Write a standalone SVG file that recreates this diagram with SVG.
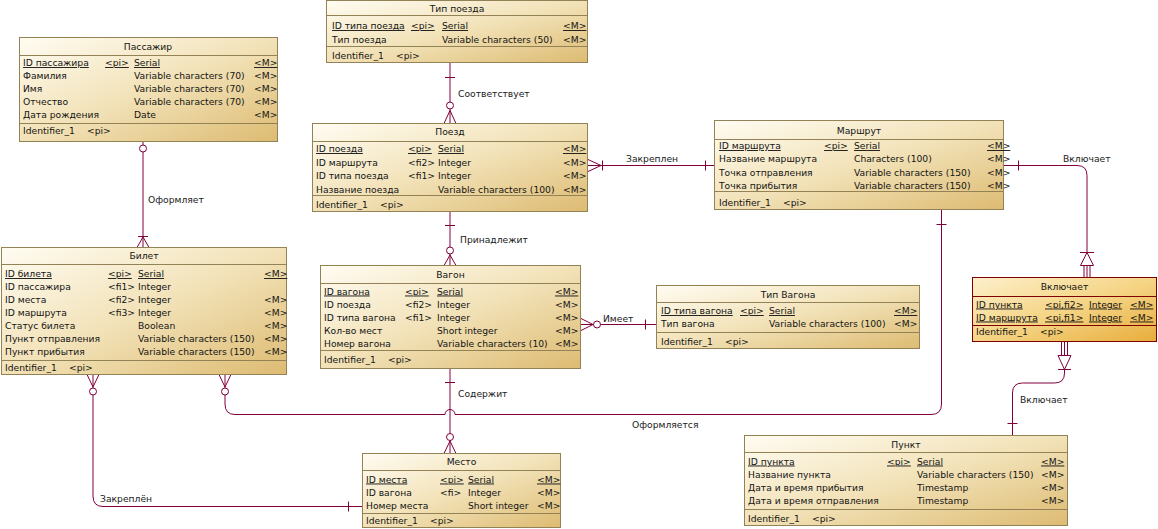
<svg xmlns="http://www.w3.org/2000/svg" width="1158" height="529" viewBox="0 0 1158 529">
  <defs>
    <linearGradient id="entFill" x1="0" y1="0" x2="1" y2="1">
      <stop offset="0" stop-color="#fffcf2"/>
      <stop offset="0.5" stop-color="#f2e2b8"/>
      <stop offset="1" stop-color="#ddbb72"/>
    </linearGradient>
    <linearGradient id="selFill" x1="0" y1="0" x2="1" y2="1">
      <stop offset="0" stop-color="#fdf0cc"/>
      <stop offset="0.5" stop-color="#f5d586"/>
      <stop offset="1" stop-color="#e8ad3c"/>
    </linearGradient>
  </defs>
  <style>
    .box { fill: url(#entFill); stroke: #948257; stroke-width: 1; }
    .sep { stroke: #948257; stroke-width: 1; }
    .sel .box { fill: url(#selFill); stroke: #800000; }
    .sel .sep { stroke: #800000; }
    text { font-family: "DejaVu Sans", "Liberation Sans", sans-serif; font-size: 9.2px; fill: #141414; }
    .ttl { text-anchor: middle; }
    .u { text-decoration: underline; }
    .ln { fill: none; stroke: #80003c; stroke-width: 1; }
    .dot { fill: #ffffff; stroke: #80003c; stroke-width: 1; }
    .lbl { fill: #202020; }
  </style>

  <!-- Connectors -->
  <g id="connectors">
    <!-- Тип поезда – Поезд -->
    <path class="ln" d="M450,62.5 V123.5 M445,77.5 H455 M444,123.5 L450,110.5 L456,123.5"/>
    <circle class="dot" cx="450" cy="105.5" r="3.5"/>
    <text class="lbl" x="458" y="97">Соответствует</text>

    <!-- Поезд – Вагон -->
    <path class="ln" d="M450,211.5 V265.5 M445,225.5 H455 M444,265.5 L450,255 L456,265.5"/>
    <circle class="dot" cx="450" cy="250.5" r="3.5"/>
    <text class="lbl" x="460" y="243">Принадлежит</text>

    <!-- Поезд – Маршрут -->
    <path class="ln" d="M587.5,165.5 H714.5 M588,159.5 L601,165.5 L588,171.5 M602.5,160.5 V170.5 M705.5,160.5 V170.5"/>
    <text class="lbl" x="626" y="161.5">Закреплен</text>

    <!-- Маршрут – Включает -->
    <path class="ln" d="M1003.5,165.5 H1077 Q1087,165.5 1087,175.5 V252.5 M1018.5,160.5 V170.5 M1080,252.5 H1094 M1087,252.5 L1080.5,265.5 H1093.5 Z M1084,265.5 V277.5 M1087,265.5 V277.5 M1090,265.5 V277.5"/>
    <text class="lbl" x="1063" y="161.5">Включает</text>

    <!-- Включает – Пункт -->
    <path class="ln" d="M1061.5,341.5 V355.5 M1064.5,341.5 V355.5 M1067.5,341.5 V355.5 M1058,355.5 H1071 L1064.5,369.5 Z M1058,369.5 H1071 M1064.5,369.5 V373 Q1064.5,383 1054.5,383 H1022.5 Q1012.5,383 1012.5,393 V435.5 M1007.5,423.5 H1017.5"/>
    <text class="lbl" x="1020" y="403">Включает</text>

    <!-- Вагон – Тип Вагона -->
    <path class="ln" d="M580.5,324.5 H656.5 M581,318.5 L593,324.5 L581,330.5 M645.5,319.5 V329.5"/>
    <circle class="dot" cx="597" cy="324.5" r="3.5"/>
    <text class="lbl" x="603" y="321.5">Имеет</text>

    <!-- Вагон – Место -->
    <path class="ln" d="M450,368.5 V453.5 M445,382.5 H455 M444,453.5 L450,441 L456,453.5"/>
    <circle class="dot" cx="450" cy="437" r="3.5"/>
    <text class="lbl" x="458" y="397">Содержит</text>

    <!-- Пассажир – Билет -->
    <path class="ln" d="M143,141.5 V247.5 M138,236.5 H148 M137,247.5 L143,237 L149,247.5"/>
    <circle class="dot" cx="143" cy="148.5" r="3.5"/>
    <text class="lbl" x="148" y="202.5">Оформляет</text>

    <!-- Билет – Маршрут -->
    <path class="ln" d="M219,374.5 L225,387 L231,374.5 M225,374.5 V404 Q225,414.5 235,414.5 H445 A5,5 0 0 1 455,414.5 H931 Q941.5,414.5 941.5,404 V209.5 M936.5,224.5 H946.5"/>
    <circle class="dot" cx="225" cy="391.5" r="3.5"/>
    <text class="lbl" x="632" y="427.5">Оформляется</text>

    <!-- Билет – Место -->
    <path class="ln" d="M87,374.5 L93,387 L99,374.5 M93,374.5 V496 Q93,506.5 103,506.5 H362.5 M348.5,501.5 V511.5"/>
    <circle class="dot" cx="93" cy="391.5" r="3.5"/>
    <text class="lbl" x="100" y="501.5">Закреплён</text>
  </g>

  <!-- Пассажир -->
  <g id="passenger">
    <rect class="box" x="19.5" y="37.5" width="258" height="104"/>
    <line class="sep" x1="19.5" y1="55.5" x2="277.5" y2="55.5"/>
    <line class="sep" x1="19.5" y1="123.5" x2="277.5" y2="123.5"/>
    <text class="ttl" x="148" y="49.5">Пассажир</text>
    <text class="u" x="23" y="66">ID пассажира</text><text class="u" x="105" y="66">&lt;pi&gt;</text><text class="u" x="134" y="66">Serial</text><text class="u" x="254" y="66">&lt;M&gt;</text>
    <text x="23" y="79">Фамилия</text><text x="134" y="79">Variable characters (70)</text><text x="254" y="79">&lt;M&gt;</text>
    <text x="23" y="92">Имя</text><text x="134" y="92">Variable characters (70)</text><text x="254" y="92">&lt;M&gt;</text>
    <text x="23" y="105">Отчество</text><text x="134" y="105">Variable characters (70)</text><text x="254" y="105">&lt;M&gt;</text>
    <text x="23" y="118">Дата рождения</text><text x="134" y="118">Date</text><text x="254" y="118">&lt;M&gt;</text>
    <text x="23" y="134">Identifier_1</text><text x="87" y="134">&lt;pi&gt;</text>
  </g>

  <!-- Тип поезда -->
  <g id="train-type">
    <rect class="box" x="326.5" y="0.5" width="261" height="62"/>
    <line class="sep" x1="326.5" y1="15.5" x2="587.5" y2="15.5"/>
    <line class="sep" x1="326.5" y1="46.5" x2="587.5" y2="46.5"/>
    <text class="ttl" x="457" y="12">Тип поезда</text>
    <text class="u" x="332" y="29">ID типа поезда</text><text class="u" x="411" y="29">&lt;pi&gt;</text><text class="u" x="442" y="29">Serial</text><text class="u" x="563" y="29">&lt;M&gt;</text>
    <text x="332" y="42.5">Тип поезда</text><text x="442" y="42.5">Variable characters (50)</text><text x="563" y="42.5">&lt;M&gt;</text>
    <text x="332" y="58.5">Identifier_1</text><text x="396" y="58.5">&lt;pi&gt;</text>
  </g>

  <!-- Поезд -->
  <g id="train">
    <rect class="box" x="312.5" y="123.5" width="275" height="88"/>
    <line class="sep" x1="312.5" y1="141.5" x2="587.5" y2="141.5"/>
    <line class="sep" x1="312.5" y1="195.5" x2="587.5" y2="195.5"/>
    <text class="ttl" x="450" y="134.5">Поезд</text>
    <text class="u" x="316" y="152">ID поезда</text><text class="u" x="408" y="152">&lt;pi&gt;</text><text class="u" x="438" y="152">Serial</text><text class="u" x="563" y="152">&lt;M&gt;</text>
    <text x="316" y="165.5">ID маршрута</text><text x="408" y="165.5">&lt;fi2&gt;</text><text x="438" y="165.5">Integer</text><text x="563" y="165.5">&lt;M&gt;</text>
    <text x="316" y="179">ID типа поезда</text><text x="408" y="179">&lt;fi1&gt;</text><text x="438" y="179">Integer</text><text x="563" y="179">&lt;M&gt;</text>
    <text x="316" y="192.5">Название поезда</text><text x="438" y="192.5">Variable characters (100)</text><text x="563" y="192.5">&lt;M&gt;</text>
    <text x="316" y="208">Identifier_1</text><text x="380" y="208">&lt;pi&gt;</text>
  </g>

  <!-- Маршрут -->
  <g id="route">
    <rect class="box" x="714.5" y="120.5" width="289" height="89"/>
    <line class="sep" x1="714.5" y1="139.5" x2="1003.5" y2="139.5"/>
    <line class="sep" x1="714.5" y1="191.5" x2="1003.5" y2="191.5"/>
    <text class="ttl" x="859" y="133.5">Маршрут</text>
    <text class="u" x="719" y="149">ID маршрута</text><text class="u" x="824" y="149">&lt;pi&gt;</text><text class="u" x="854" y="149">Serial</text><text class="u" x="987" y="149">&lt;M&gt;</text>
    <text x="719" y="162">Название маршрута</text><text x="854" y="162">Characters (100)</text><text x="987" y="162">&lt;M&gt;</text>
    <text x="719" y="175.5">Точка отправления</text><text x="854" y="175.5">Variable characters (150)</text><text x="987" y="175.5">&lt;M&gt;</text>
    <text x="719" y="188.5">Точка прибытия</text><text x="854" y="188.5">Variable characters (150)</text><text x="987" y="188.5">&lt;M&gt;</text>
    <text x="719" y="206">Identifier_1</text><text x="783" y="206">&lt;pi&gt;</text>
  </g>

  <!-- Билет -->
  <g id="ticket">
    <rect class="box" x="1.5" y="247.5" width="285" height="127"/>
    <line class="sep" x1="1.5" y1="264.5" x2="286.5" y2="264.5"/>
    <line class="sep" x1="1.5" y1="360.5" x2="286.5" y2="360.5"/>
    <text class="ttl" x="144" y="259">Билет</text>
    <text class="u" x="5" y="277">ID билета</text><text class="u" x="108" y="277">&lt;pi&gt;</text><text class="u" x="138" y="277">Serial</text><text class="u" x="264" y="277">&lt;M&gt;</text>
    <text x="5" y="290">ID пассажира</text><text x="108" y="290">&lt;fi1&gt;</text><text x="138" y="290">Integer</text>
    <text x="5" y="303">ID места</text><text x="108" y="303">&lt;fi2&gt;</text><text x="138" y="303">Integer</text><text x="264" y="303">&lt;M&gt;</text>
    <text x="5" y="316">ID маршрута</text><text x="108" y="316">&lt;fi3&gt;</text><text x="138" y="316">Integer</text><text x="264" y="316">&lt;M&gt;</text>
    <text x="5" y="329">Статус билета</text><text x="138" y="329">Boolean</text><text x="264" y="329">&lt;M&gt;</text>
    <text x="5" y="342">Пункт отправления</text><text x="138" y="342">Variable characters (150)</text><text x="264" y="342">&lt;M&gt;</text>
    <text x="5" y="355">Пункт прибытия</text><text x="138" y="355">Variable characters (150)</text><text x="264" y="355">&lt;M&gt;</text>
    <text x="5" y="371">Identifier_1</text><text x="69" y="371">&lt;pi&gt;</text>
  </g>

  <!-- Вагон -->
  <g id="car">
    <rect class="box" x="320.5" y="265.5" width="260" height="103"/>
    <line class="sep" x1="320.5" y1="283.5" x2="580.5" y2="283.5"/>
    <line class="sep" x1="320.5" y1="350.5" x2="580.5" y2="350.5"/>
    <text class="ttl" x="450.5" y="277.5">Вагон</text>
    <text class="u" x="324" y="294.5">ID вагона</text><text class="u" x="405" y="294.5">&lt;pi&gt;</text><text class="u" x="437" y="294.5">Serial</text><text class="u" x="555" y="294.5">&lt;M&gt;</text>
    <text x="324" y="307.5">ID поезда</text><text x="405" y="307.5">&lt;fi2&gt;</text><text x="437" y="307.5">Integer</text><text x="555" y="307.5">&lt;M&gt;</text>
    <text x="324" y="320.5">ID типа вагона</text><text x="405" y="320.5">&lt;fi1&gt;</text><text x="437" y="320.5">Integer</text><text x="555" y="320.5">&lt;M&gt;</text>
    <text x="324" y="333.5">Кол-во мест</text><text x="437" y="333.5">Short integer</text><text x="555" y="333.5">&lt;M&gt;</text>
    <text x="324" y="346.5">Номер вагона</text><text x="437" y="346.5">Variable characters (10)</text><text x="555" y="346.5">&lt;M&gt;</text>
    <text x="324" y="363">Identifier_1</text><text x="388" y="363">&lt;pi&gt;</text>
  </g>

  <!-- Тип Вагона -->
  <g id="car-type">
    <rect class="box" x="656.5" y="285.5" width="263" height="63"/>
    <line class="sep" x1="656.5" y1="302.5" x2="919.5" y2="302.5"/>
    <line class="sep" x1="656.5" y1="332.5" x2="919.5" y2="332.5"/>
    <text class="ttl" x="788" y="297.5">Тип Вагона</text>
    <text class="u" x="661" y="314">ID типа вагона</text><text class="u" x="740" y="314">&lt;pi&gt;</text><text class="u" x="769" y="314">Serial</text><text class="u" x="894" y="314">&lt;M&gt;</text>
    <text x="661" y="326.5">Тип вагона</text><text x="769" y="326.5">Variable characters (100)</text><text x="894" y="326.5">&lt;M&gt;</text>
    <text x="661" y="344.5">Identifier_1</text><text x="725" y="344.5">&lt;pi&gt;</text>
  </g>

  <!-- Включает -->
  <g id="includes" class="sel">
    <rect class="box" x="972.5" y="277.5" width="184" height="64"/>
    <line class="sep" x1="972.5" y1="296.5" x2="1156.5" y2="296.5"/>
    <line class="sep" x1="972.5" y1="325.5" x2="1156.5" y2="325.5"/>
    <text class="ttl" x="1064.5" y="289.5">Включает</text>
    <text class="u" x="976" y="307.5">ID пункта</text><text class="u" x="1045" y="307.5">&lt;pi,fi2&gt;</text><text class="u" x="1089" y="307.5">Integer</text><text class="u" x="1130" y="307.5">&lt;M&gt;</text>
    <text class="u" x="976" y="320.5">ID маршрута</text><text class="u" x="1045" y="320.5">&lt;pi,fi1&gt;</text><text class="u" x="1089" y="320.5">Integer</text><text class="u" x="1130" y="320.5">&lt;M&gt;</text>
    <text x="976" y="335">Identifier_1</text><text x="1040" y="335">&lt;pi&gt;</text>
  </g>

  <!-- Место -->
  <g id="seat">
    <rect class="box" x="362.5" y="453.5" width="198" height="74"/>
    <line class="sep" x1="362.5" y1="470.5" x2="560.5" y2="470.5"/>
    <line class="sep" x1="362.5" y1="513.5" x2="560.5" y2="513.5"/>
    <text class="ttl" x="461.5" y="465">Место</text>
    <text class="u" x="366" y="482.5">ID места</text><text class="u" x="440" y="482.5">&lt;pi&gt;</text><text class="u" x="468" y="482.5">Serial</text><text class="u" x="537" y="482.5">&lt;M&gt;</text>
    <text x="366" y="495.5">ID вагона</text><text x="440" y="495.5">&lt;fi&gt;</text><text x="468" y="495.5">Integer</text><text x="537" y="495.5">&lt;M&gt;</text>
    <text x="366" y="508.5">Номер места</text><text x="468" y="508.5">Short integer</text><text x="537" y="508.5">&lt;M&gt;</text>
    <text x="366" y="524">Identifier_1</text><text x="430" y="524">&lt;pi&gt;</text>
  </g>

  <!-- Пункт -->
  <g id="point">
    <rect class="box" x="744.5" y="435.5" width="323" height="90"/>
    <line class="sep" x1="744.5" y1="452.5" x2="1067.5" y2="452.5"/>
    <line class="sep" x1="744.5" y1="509.5" x2="1067.5" y2="509.5"/>
    <text class="ttl" x="906" y="447.5">Пункт</text>
    <text class="u" x="748" y="464.5">ID пункта</text><text class="u" x="887" y="464.5">&lt;pi&gt;</text><text class="u" x="917" y="464.5">Serial</text><text class="u" x="1041" y="464.5">&lt;M&gt;</text>
    <text x="748" y="477.5">Название пункта</text><text x="917" y="477.5">Variable characters (150)</text><text x="1041" y="477.5">&lt;M&gt;</text>
    <text x="748" y="490.5">Дата и время прибытия</text><text x="917" y="490.5">Timestamp</text><text x="1041" y="490.5">&lt;M&gt;</text>
    <text x="748" y="504">Дата и время отправления</text><text x="917" y="504">Timestamp</text><text x="1041" y="504">&lt;M&gt;</text>
    <text x="748" y="522">Identifier_1</text><text x="812" y="522">&lt;pi&gt;</text>
  </g>
</svg>
